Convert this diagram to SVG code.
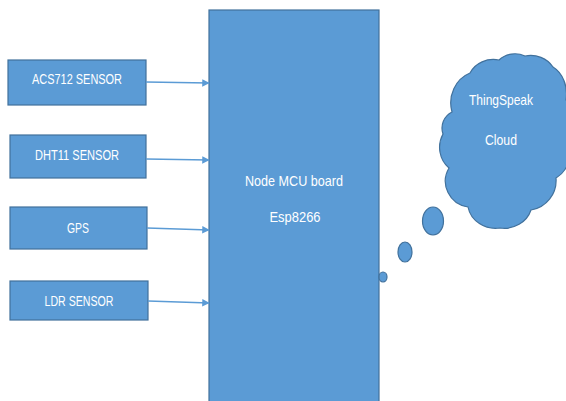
<svg xmlns="http://www.w3.org/2000/svg" width="566" height="401" viewBox="0 0 566 401">
<style>
.box{fill:#5b9bd5;stroke:#41719c;stroke-width:1.2}
.t{fill:#fff;font-family:"Liberation Sans",Arial,sans-serif;font-size:15px;text-anchor:middle}
.c{stroke:#5b9bd5;stroke-width:1.5;fill:none}
</style>
<defs>
<marker id="ah" viewBox="0 0 10 10" refX="9" refY="5" markerWidth="5" markerHeight="5" orient="auto" markerUnits="strokeWidth">
<path d="M0,0 L10,5 L0,10 z" fill="#5b9bd5"/>
</marker>
</defs>
<rect width="566" height="401" fill="#fff"/>
<g id="board">
<rect class="box" x="209" y="10" width="170" height="400"/>
<text class="t" x="294" y="186" textLength="98" lengthAdjust="spacingAndGlyphs">Node MCU board</text>
<text class="t" x="295" y="222" textLength="51" lengthAdjust="spacingAndGlyphs">Esp8266</text>
</g>
<g id="acs712">
<rect class="box" x="8" y="60" width="138" height="45"/>
<text class="t" x="77" y="84" textLength="90" lengthAdjust="spacingAndGlyphs">ACS712 SENSOR</text>
</g>
<g id="dht11">
<rect class="box" x="10" y="135" width="136" height="43"/>
<text class="t" x="77" y="160" textLength="84" lengthAdjust="spacingAndGlyphs">DHT11 SENSOR</text>
</g>
<g id="gps">
<rect class="box" x="10" y="207" width="137" height="42"/>
<text class="t" x="78" y="233" textLength="22" lengthAdjust="spacingAndGlyphs">GPS</text>
</g>
<g id="ldr">
<rect class="box" x="10" y="281" width="138" height="39"/>
<text class="t" x="79" y="306" textLength="69" lengthAdjust="spacingAndGlyphs">LDR SENSOR</text>
</g>
<g id="cloud">
<path class="box" d="M452 112 A30 32 0 0 1 470 73 A26 24 0 0 1 499 60 A22 20 0 0 1 525 56 A26 24 0 0 1 553 67 A24 30 0 0 1 566 100 A28 32 0 0 1 568 140 A28 30 0 0 1 556 178 A30 30 0 0 1 531 210 A28 26 0 0 1 500 228 A28 26 0 0 1 468 207 A26 26 0 0 1 449 168 A24 26 0 0 1 443 134 A18 18 0 0 1 452 112 Z"/>
<text class="t" x="501" y="105" textLength="64" lengthAdjust="spacingAndGlyphs">ThingSpeak</text>
<text class="t" x="501" y="145" textLength="32" lengthAdjust="spacingAndGlyphs">Cloud</text>
</g>
<g id="bubbles">
<ellipse class="box" cx="433" cy="221" rx="10.5" ry="14"/>
<ellipse class="box" cx="405" cy="252" rx="7" ry="10"/>
<ellipse class="box" cx="383" cy="277" rx="4" ry="5"/>
</g>
<g id="connectors">
<line class="c" x1="146" y1="82" x2="209" y2="83" marker-end="url(#ah)"/>
<line class="c" x1="146" y1="159" x2="209" y2="160" marker-end="url(#ah)"/>
<line class="c" x1="147" y1="228" x2="209" y2="230" marker-end="url(#ah)"/>
<line class="c" x1="148" y1="301" x2="209" y2="303" marker-end="url(#ah)"/>
</g>
</svg>
